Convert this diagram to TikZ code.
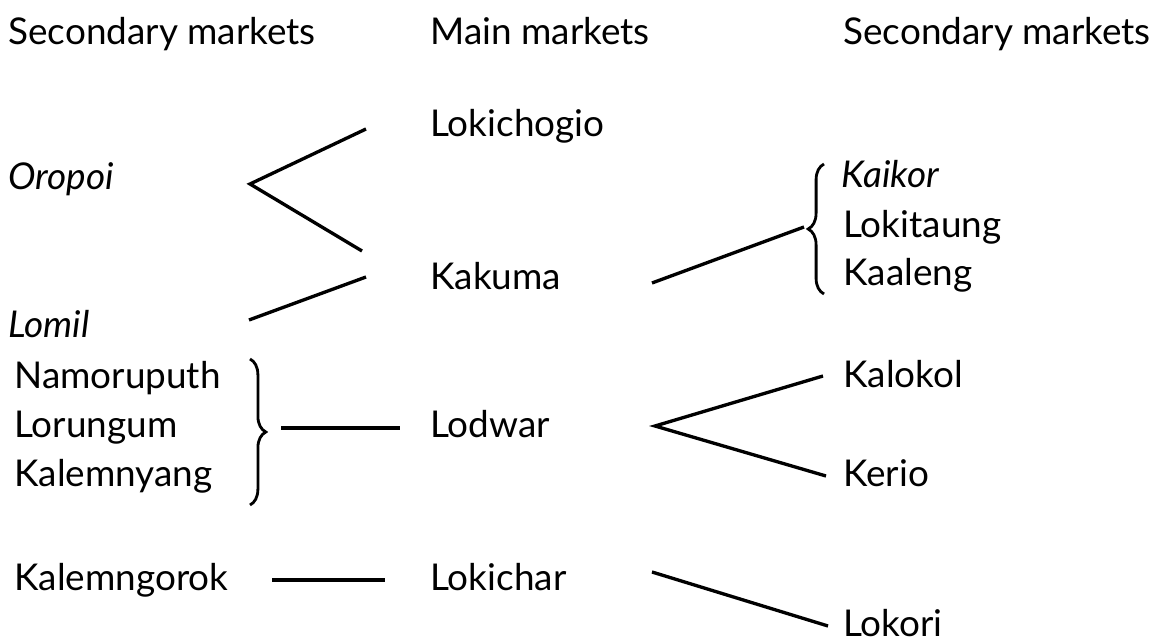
\documentclass[tikz,border=0pt]{standalone}
\usepackage{fontspec}
\setmainfont{Lato}
\usetikzlibrary{calc}
\usetikzlibrary{decorations.pathreplacing}

\begin{document}
\begin{tikzpicture}[x=0.02cm, y=-0.02cm,
  lbl/.style={anchor=base west, inner sep=0, font=\fontsize{21}{24}\selectfont},
  conn/.style={black, line width=1.9pt},
  brc/.style={black, line width=1.6pt, decorate, decoration={brace, amplitude=9pt}}]
\useasboundingbox (0,0) rectangle (1160,644);
% column heads
\node[lbl] (headL) at (8,45) {Secondary markets};
\node[lbl] (headM) at (430,45) {Main markets};
\node[lbl] (headR) at (843,45) {Secondary markets};
% main markets
\foreach \n/\t/\y in {lokichogio/Lokichogio/137, kakuma/Kakuma/290, lodwar/Lodwar/438, lokichar/Lokichar/591}
 \node[lbl] (\n) at (430,\y) {\t};
% left secondary
\node[lbl] (oropoi) at (8,190) {\itshape Oropoi};
\node[lbl] (lomil) at (8,338) {\itshape Lomil};
\foreach \n/\t/\y in {namoruputh/Namoruputh/389, lorungum/Lorungum/438, kalemnyang/Kalemnyang/487, kalemngorok/Kalemngorok/591}
 \node[lbl] (\n) at (14,\y) {\t};
% right secondary
\node[lbl] (kaikor) at (841,188) {\itshape Kaikor};
\foreach \n/\t/\y in {lokitaung/Lokitaung/238, kaaleng/Kaaleng/286, kalokol/Kalokol/388, kerio/Kerio/487, lokori/Lokori/637}
 \node[lbl] (\n) at (843,\y) {\t};
% line ends
\coordinate (oV) at (250,184);
\coordinate (oA) at (366,129);
\coordinate (oB) at (362,251);
\coordinate (lA) at (249,320);
\coordinate (lB) at (366,277);
\coordinate (kA) at (652,283);
\coordinate (kB) at (804,227);
\coordinate (bL) at (281,428);
\coordinate (bR) at (400,428);
\coordinate (dV) at (655,426);
\coordinate (dA) at (823,376);
\coordinate (dB) at (826,476);
\coordinate (gA) at (272,580);
\coordinate (gB) at (385,580);
\coordinate (cA) at (652,572);
\coordinate (cB) at (828,626);
% connectors
\draw[conn] (oA) -- (oV) -- (oB);
\draw[conn] (lA) -- (lB);
\draw[conn] (kA) -- (kB);
\draw[conn] (bL) -- (bR);
\draw[conn] (dA) -- (dV) -- (dB);
\draw[conn] (gA) -- (gB);
\draw[conn] (cA) -- (cB);
% braces
\draw[brc] (250,359) -- (250,505);
\draw[brc] (824,294) -- (824,164);
\end{tikzpicture}
\end{document}
